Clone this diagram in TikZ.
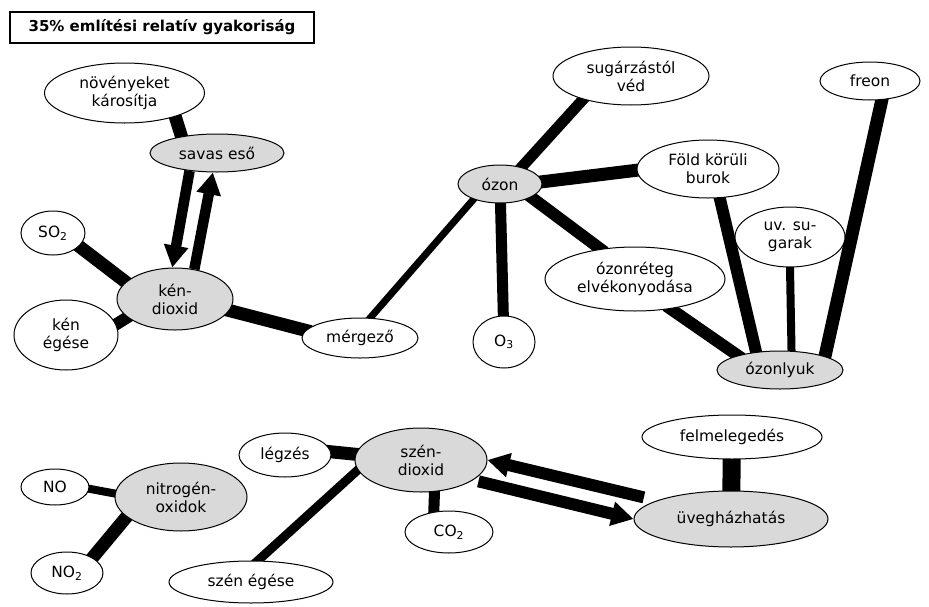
\documentclass[tikz,border=0pt]{standalone}
\usepackage{fontspec}
\setmainfont{DejaVu Sans}
\usetikzlibrary{shapes.geometric,arrows.meta,backgrounds}
\definecolor{bubgray}{HTML}{D9D9D9}
\begin{document}
\begin{tikzpicture}[x=0.75pt,y=-0.75pt,
  font=\fontsize{11.6}{13.5}\selectfont,
  bub/.style 2 args={ellipse, draw, line width=0.75pt, fill=white, inner sep=-2pt,
    align=center, minimum width=#1*0.75pt, minimum height=#2*0.75pt},
  key/.style={fill=bubgray},
  link/.style={line width=#1, shorten <=-4pt, shorten >=-4pt},
  flow/.style={line width=#1, -{Triangle[length=16.5pt,width=17.5pt]}},
  titlebox/.style={draw, line width=1.1pt, inner sep=0pt,
    minimum width=228pt, minimum height=23.25pt, font=\fontsize{11.25}{13.5}\selectfont\bfseries}]
\useasboundingbox (0,0) rectangle (929,607);

% heading
\node[titlebox] (title) at (162,27.5) {35\% említési relatív gyakoriság};

% sulphur dioxide cluster
\node[bub={160}{60}] (nov) at (124.5,93) {növényeket\\károsítja};
\node[bub={134}{38},key] (savas) at (217,153) {savas eső};
\node[bub={64}{44}] (so2) at (53,233) {SO\textsubscript{2}};
\node[bub={116}{62},key] (kd) at (175,299) {kén-\\dioxid};
\node[bub={104}{70}] (keneg) at (66,335) {kén\\égése};
\node[bub={116}{40}] (merg) at (360,338) {mérgező};

% ozone cluster
\node[bub={84}{38},key] (ozon) at (500,184) {ózon};
\node[bub={156}{58}] (sug) at (631,76) {sugárzástól\\véd};
\node[bub={100}{38}] (freon) at (870,81) {freon};
\node[bub={142}{58}] (fold) at (708,169) {Föld körüli\\burok};
\node[bub={110}{60}] (uv) at (790,237) {uv. su-\\garak};
\node[bub={180}{64}] (oret) at (635,279) {ózonréteg\\elvékonyodása};
\node[bub={62}{52}] (o3) at (504,342) {O\textsubscript{3}};
\node[bub={126}{38},key] (olyuk) at (780,370) {ózonlyuk};

% nitrogen oxides
\node[bub={68}{36}] (no) at (55,487) {NO};
\node[bub={132}{68},key] (nox) at (181,497) {nitrogén-\\oxidok};
\node[bub={72}{42}] (no2) at (67,573) {NO\textsubscript{2}};

% carbon dioxide cluster
\node[bub={92}{44}] (legz) at (285,455) {légzés};
\node[bub={132}{64},key] (szd) at (421,460) {szén-\\dioxid};
\node[bub={88}{42}] (co2) at (449,532) {CO\textsubscript{2}};
\node[bub={164}{42}] (szeneg) at (251,582) {szén égése};
\node[bub={180}{44}] (felm) at (732,437) {felmelegedés};
\node[bub={194}{56},key] (uveg) at (731,519) {üvegházhatás};

% plain links, kept behind the bubbles
\begin{pgfonlayer}{background}
  \draw[link=9.75pt] (nov.-25) -- (savas.155);
  \draw[link=9.75pt] (so2.-27) -- (kd.161);
  \draw[link=9pt] (keneg.12) -- (kd.201);
  \draw[link=9.75pt] (kd.-12) -- (merg.172);
  \draw[link=5.25pt] (merg.63) -- (ozon.210);
  \draw[link=8.25pt] (ozon.38) -- (sug.206);
  \draw[link=9.75pt] (ozon.3) -- (fold.181);
  \draw[link=8.25pt] (ozon) -- (o3);
  \draw[link=9pt] (ozon.-23) -- (oret.139);
  \draw[link=9pt] (oret.-40) -- (olyuk.161);
  \draw[link=9pt] (fold.-68) -- (olyuk.143);
  \draw[link=6pt] (uv.south) -- (olyuk.59);
  \draw[link=9.75pt] (freon.-58) -- (olyuk.17);
  \draw[link=6pt] (no.-3) -- (nox.177);
  \draw[link=9.75pt] (no2.31) -- (nox.200);
  \draw[link=9.75pt] (legz.4) -- (szd.175);
  \draw[link=6.75pt] (szeneg.72) -- (szd.189);
  \draw[link=8.25pt] (szd.-67) -- (co2.127);
  \draw[link=13.5pt] (felm) -- (uveg);
\end{pgfonlayer}

% directed links
\draw[flow=7.9pt] (savas.213) -- (kd.95);
\draw[flow=7.9pt] (kd.57) -- (savas.258);
\draw[flow=9pt, shorten <=10pt] (uveg.166) -- (szd.0);
\draw[flow=9pt, shorten <=4pt] (szd.-21) -- (uveg.180);
\end{tikzpicture}
\end{document}
